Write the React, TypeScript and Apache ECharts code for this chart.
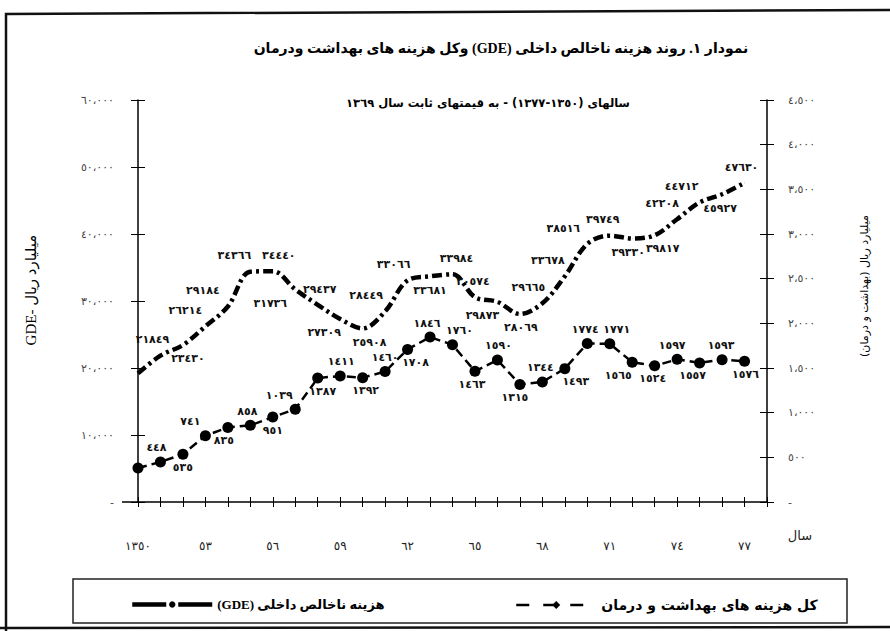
import React, { useEffect, useRef } from 'react';
import * as echarts from 'echarts';

// ---------- data ----------
const years = [1350, 1351, 1352, 1353, 1354, 1355, 1356, 1357, 1358, 1359, 1360, 1361, 1362, 1363, 1364, 1365, 1366, 1367, 1368, 1369, 1370, 1371, 1372, 1373, 1374, 1375, 1376, 1377];
const gdeValues = [19200, 21849, 23430, 26214, 29184, 34366, 34440, 31736, 29437, 27309, 25908, 28449, 33066, 33681, 33984, 30574, 29873, 28069, 29665, 33678, 38516, 39749, 39330, 39817, 42208, 44712, 45927, 47630];
const healthValues = [380, 448, 535, 741, 835, 858, 951, 1039, 1387, 1411, 1392, 1460, 1708, 1846, 1760, 1463, 1590, 1315, 1344, 1493, 1774, 1771, 1565, 1524, 1597, 1557, 1593, 1576];
const xTickYears = [1350, 1353, 1356, 1359, 1362, 1365, 1368, 1371, 1374, 1377];
const xTickLabels = ['١٣٥٠', '٥٣', '٥٦', '٥٩', '٦٢', '٦٥', '٦٨', '٧١', '٧٤', '٧٧'];

const GDE_NAME = 'هزینه ناخالص داخلی (GDE)';
const HEALTH_NAME = 'کل هزینه های بهداشت و درمان';
const TITLE = 'نمودار ١. روند هزینه ناخالص داخلی (GDE) وکل هزینه های بهداشت ودرمان';
const SUBTITLE = 'سالهای (١٣٥٠-١٣٧٧) - به قیمتهای ثابت سال ١٣٦٩';
const LEFT_AXIS_NAME = 'GDE- میلیارد ریال';
const RIGHT_AXIS_NAME = 'میلیارد ریال (بهداشت و درمان)';
const X_NAME = 'سال';

// label placement (style only): side t/b ('' = no label), horizontal shift in px
const gdeLabelSide = ['', 't', 'b', 't', 't', 't', 't', 'b', 't', 'b', 'b', 't', 't', 'b', 't', 't', 'b', 'b', 't', 't', 't', 't', 'b', 'b', 't', 't', 'b', 't'];
const gdeLabelDx = [0, -8, 5, -20, -25, -16, 6, -25, 2, -16, 7, -19, -14, 0, 4, -2, -15, 1, -14, -17, -24, -7, -4, 8, -15, -18, -2, -3];
const healthLabelSide = ['', 't', 'b', 't', 'b', 't', 'b', 't', 'b', 't', 'b', 't', 'b', 't', 't', 'b', 't', 'b', 't', 'b', 't', 't', 'b', 'b', 't', 'b', 't', 'b'];
const healthLabelDx = [0, -4, 0, -15, -4, -3, 0, -16, 5, 1, 3, 0, 8, -3, 7, -3, 1, -5, -2, 11, -2, 7, -14, -2, -5, -7, -1, 1];

const rtl = (s: string) => '\u202B' + s + '\u202C';
const AR = '٠١٢٣٤٥٦٧٨٩';
const toAr = (v: number | string) => String(v).replace(/[0-9]/g, (d) => AR[+d]);
const toArSep = (v: number) => toAr(v.toLocaleString('en-US').replace(/,/g, '،'));

const FONT = "'Liberation Serif', 'DejaVu Sans', serif";
const AFONT = "'DejaVu Sans', sans-serif";

function labelFor(side: string, distTop: number, distBottom: number) {
  if (!side) return { show: false };
  return {
    show: true,
    position: side === 't' ? 'top' : 'bottom',
    distance: side === 't' ? distTop : distBottom,
  };
}

export default function App() {
  const ref = useRef<HTMLDivElement>(null);

  useEffect(() => {
    if (!ref.current) return;
    const chart = echarts.init(ref.current, null, { renderer: 'svg' });

    const gdeData = years.map((y, i) => ({ value: [y, gdeValues[i]], label: labelFor(gdeLabelSide[i], 10, 8) }));
    const healthData = years.map((y, i) => ({ value: [y, healthValues[i]], label: labelFor(healthLabelSide[i], 3, 2) }));

    const dataLabel = {
      formatter: (p: any) => toAr(p.value[1]),
      fontFamily: AFONT,
      fontSize: 11,
      fontWeight: 'bold' as const,
      color: '#111',
    };

    const axisLabelStyle = { fontFamily: AFONT, fontSize: 11, color: '#444' };

    const gdeLine = { color: '#000', width: 4.5, type: [10, 4, 3, 4] as any };
    const healthLine = { color: '#000', width: 2.5, type: [9, 5] as any };

    const option: any = {
      animation: false,
      backgroundColor: '#fff',
      grid: { left: 138, right: 123, top: 100, bottom: 129, containLabel: false },
      xAxis: [
        {
          type: 'value',
          min: 1350,
          max: 1378,
          interval: 1,
          position: 'bottom',
          axisLine: { show: true, lineStyle: { color: '#000', width: 1.5 } },
          axisTick: { show: true, inside: false, length: 5, lineStyle: { color: '#000', width: 1 } },
          axisLabel: {
            ...axisLabelStyle,
            fontSize: 12,
            color: '#222',
            margin: 38,
            formatter: (v: number) => {
              const i = xTickYears.indexOf(v);
              return i >= 0 ? xTickLabels[i] : '';
            },
          },
          splitLine: { show: false },
        },
        {
          type: 'value',
          min: 1350,
          max: 1378,
          interval: 1,
          position: 'bottom',
          axisLine: { show: false },
          axisTick: { show: true, inside: true, length: 5, lineStyle: { color: '#000', width: 1 } },
          axisLabel: { show: false },
          splitLine: { show: false },
        },
      ],
      yAxis: [
        {
          type: 'value',
          min: 0,
          max: 60000,
          interval: 10000,
          position: 'left',
          name: LEFT_AXIS_NAME,
          nameLocation: 'middle',
          nameGap: 100,
          nameTextStyle: { fontFamily: FONT, fontSize: 15, color: '#000', padding: [0, 0, 0, 22] },
          axisLine: { show: true, lineStyle: { color: '#000', width: 1.5 } },
          axisTick: { show: true, inside: false, length: 7, lineStyle: { color: '#000' } },
          axisLabel: { ...axisLabelStyle, margin: 24, formatter: (v: number) => (v === 0 ? '-' : toArSep(v)) },
          splitLine: { show: false },
        },
        {
          type: 'value',
          min: 0,
          max: 4500,
          interval: 500,
          position: 'right',
          name: rtl(RIGHT_AXIS_NAME),
          nameLocation: 'middle',
          nameGap: 92,
          nameTextStyle: { fontFamily: AFONT, fontSize: 11, color: '#000', padding: [0, 0, 0, 30] },
          axisLine: { show: true, lineStyle: { color: '#000', width: 1.5 } },
          axisTick: { show: true, inside: false, length: 7, lineStyle: { color: '#000' } },
          axisLabel: { ...axisLabelStyle, margin: 21, formatter: (v: number) => (v === 0 ? '-' : toArSep(v)) },
          splitLine: { show: false },
        },
        {
          type: 'value',
          min: 0,
          max: 60000,
          interval: 10000,
          position: 'left',
          axisLine: { show: false },
          axisTick: { show: true, inside: true, length: 7, lineStyle: { color: '#000' } },
          axisLabel: { show: false },
          splitLine: { show: false },
        },
        {
          type: 'value',
          min: 0,
          max: 4500,
          interval: 500,
          position: 'right',
          axisLine: { show: false },
          axisTick: { show: true, inside: true, length: 7, lineStyle: { color: '#000' } },
          axisLabel: { show: false },
          splitLine: { show: false },
        },
      ],
      legend: [
        {
          data: [GDE_NAME],
          left: 125,
          top: 593,
          itemWidth: 80,
          itemHeight: 8,
          selectedMode: false,
          formatter: (n: string) => rtl(n),
          textStyle: { fontFamily: FONT, fontSize: 13, fontWeight: 'bold', color: '#000' },
          lineStyle: { type: [34, 12], width: 4.5 },
        },
        {
          data: [HEALTH_NAME],
          left: 510,
          top: 593,
          itemWidth: 80,
          itemHeight: 10,
          selectedMode: false,
          formatter: (n: string) => rtl(n),
          textStyle: { fontFamily: AFONT, fontSize: 14, fontWeight: 'bold', color: '#000' },
          lineStyle: { type: [13, 14], width: 2.5 },
        },
      ],
      series: [
        {
          name: GDE_NAME,
          type: 'line',
          xAxisIndex: 0,
          yAxisIndex: 0,
          data: gdeData,
          smooth: 0.35,
          showSymbol: true,
          showAllSymbol: true,
          symbol: 'circle',
          symbolSize: 0.5,
          lineStyle: gdeLine,
          itemStyle: { color: '#000' },
          label: dataLabel,
          labelLayout: (p: any) => ({ dx: gdeLabelDx[p.dataIndex] || 0, hideOverlap: false }),
          z: 3,
        },
        {
          // legend representative (diamond icon only)
          name: HEALTH_NAME,
          type: 'line',
          xAxisIndex: 0,
          yAxisIndex: 1,
          data: [],
          symbol: 'diamond',
          lineStyle: healthLine,
          itemStyle: { color: '#000' },
        },
        {
          name: HEALTH_NAME,
          type: 'line',
          xAxisIndex: 0,
          yAxisIndex: 1,
          data: healthData,
          symbol: 'circle',
          symbolSize: 11,
          showAllSymbol: true,
          lineStyle: healthLine,
          itemStyle: { color: '#000' },
          label: dataLabel,
          labelLayout: (p: any) => ({ dx: healthLabelDx[p.dataIndex] || 0, hideOverlap: false }),
          z: 4,
        },
      ],
      graphic: [
        {
          type: 'polyline',
          shape: { points: [[890, 10], [6, 14], [6, 631]] },
          style: { stroke: '#111', lineWidth: 2.5, fill: 'none' },
          silent: true,
        },
        {
          type: 'line',
          shape: { x1: 0, y1: 628, x2: 890, y2: 627 },
          style: { stroke: '#111', lineWidth: 2.5 },
          silent: true,
        },
        {
          type: 'rect',
          shape: { x: 73, y: 579, width: 774, height: 44 },
          style: { stroke: '#222', lineWidth: 1.5, fill: 'none' },
          silent: true,
        },
        {
          type: 'line',
          shape: { x1: 122, y1: 502, x2: 138, y2: 502 },
          style: { stroke: '#000', lineWidth: 1.5 },
          silent: true,
        },
        {
          type: 'text',
          x: 501,
          y: 48,
          style: {
            text: rtl(TITLE),
            align: 'center',
            verticalAlign: 'middle',
            fontFamily: FONT,
            fontSize: 14,
            fontWeight: 'bold',
            fill: '#000',
          },
        },
        {
          type: 'text',
          x: 488,
          y: 103,
          style: {
            text: rtl(SUBTITLE),
            align: 'center',
            verticalAlign: 'middle',
            fontFamily: AFONT,
            fontSize: 11.5,
            fontWeight: 'bold',
            fill: '#000',
          },
        },
        {
          type: 'text',
          x: 800,
          y: 535,
          style: {
            text: X_NAME,
            align: 'center',
            verticalAlign: 'middle',
            fontFamily: AFONT,
            fontSize: 13,
            fill: '#222',
          },
        },
      ],
    };

    chart.setOption(option);
    return () => chart.dispose();
  }, []);

  return (
    <div
      ref={ref}
      style={{ position: 'fixed', left: 0, top: 0, width: 890, height: 631, background: '#fff' }}
    />
  );
}
